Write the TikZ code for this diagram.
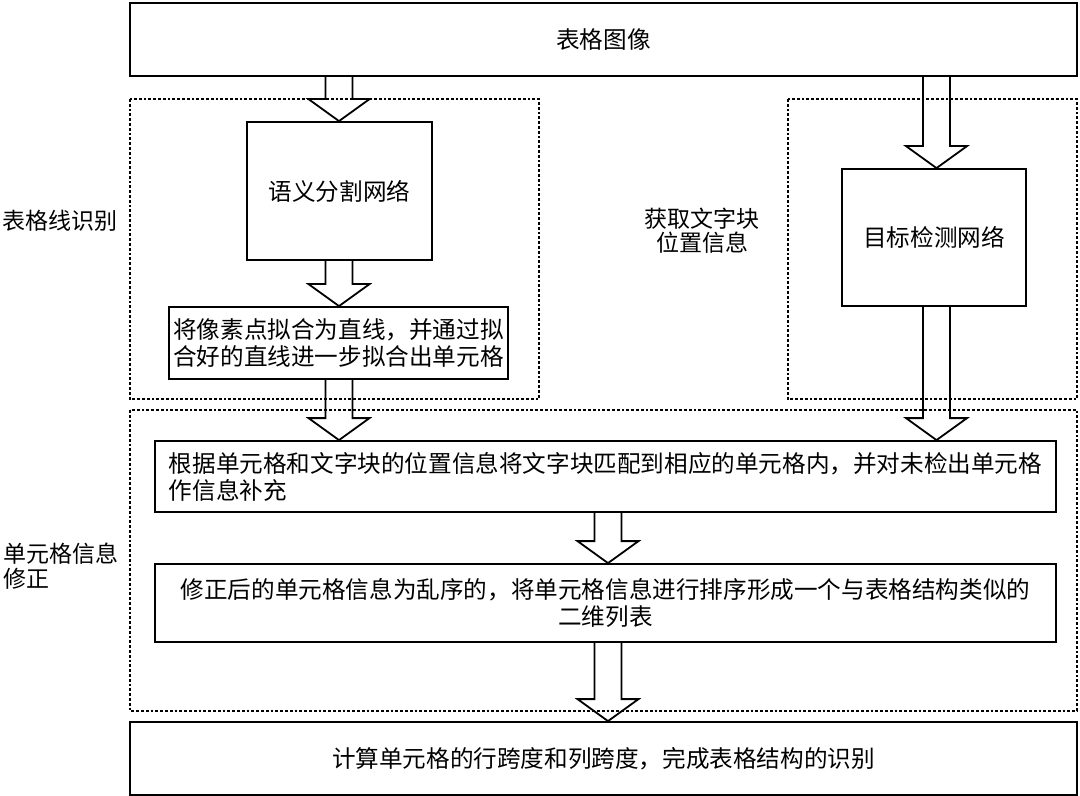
\documentclass[tikz,border=0pt]{standalone}
\usepackage{fontspec}
\setmainfont{Noto Sans CJK SC}
\usetikzlibrary{calc}
\tikzset{
  box/.style={draw, line width=0.9pt, inner sep=0pt, align=center,
    font=\fontsize{11.8}{13.5}\selectfont},
  grp/.style={draw, line width=0.75pt, dash pattern=on 1.4pt off 1pt},
  lbl/.style={inner sep=0pt, font=\fontsize{11.5}{12.2}\selectfont},
  barrowline/.style={draw, line width=0.9pt, line join=miter},
}
\newcommand\blockarrow[3]{%
  \path[barrowline] let \p0=(#1,0), \p1=(#2.south), \p2=(#3.north) in
    (\x0-6.75pt,\y1) -- (\x0-6.75pt,\y2+11pt) -- (\x0-15.25pt,\y2+11pt) --
    (\x0,\y2) -- (\x0+15.25pt,\y2+11pt) -- (\x0+6.75pt,\y2+11pt) -- (\x0+6.75pt,\y1);}
\begin{document}
\begin{tikzpicture}[x=0.5pt,y=-0.5pt]
\useasboundingbox (0,0) rectangle (1080,796);
% group frames
\draw[grp] (130,99) rectangle (539,399);
\draw[grp] (788,99) rectangle (1077,399);
\draw[grp] (130,410) rectangle (1077,711);
% nodes
\node[box, minimum width=473.5pt, minimum height=36.5pt] (img) at (603.5,39.5) {表格图像};
\node[box, minimum width=92.5pt, minimum height=69pt] (seg) at (339.5,191) {语义分割网络};
\node[box, minimum width=169.5pt, minimum height=36pt] (fit) at (338.5,343)
  {将像素点拟合为直线，并通过拟\\合好的直线进一步拟合出单元格};
\node[box, minimum width=92pt, minimum height=68.5pt] (det) at (934,237.5) {目标检测网络};
\node[box, minimum width=450.5pt, minimum height=35.5pt, align=left] (match) at (605.5,476.5)
  {根据单元格和文字块的位置信息将文字块匹配到相应的单元格内，并对未检出单元格\\作信息补充};
\node[box, minimum width=450.5pt, minimum height=39pt] (sort) at (605.5,603)
  {修正后的单元格信息为乱序的，将单元格信息进行排序形成一个与表格结构类似的\\二维列表};
\node[box, minimum width=473.5pt, minimum height=36.5pt] (res) at (603.5,758.5)
  {计算单元格的行跨度和列跨度，完成表格结构的识别};
% side labels
\node[lbl] (l1) at (60.5,221) {表格线识别};
\node[lbl, align=center] (l2) at (702,231) {获取文字块\\位置信息};
\node[lbl, align=left, anchor=west] (l3) at (3,566) {单元格信息\\修正};
% block arrows
\blockarrow{339}{img}{seg}
\blockarrow{936.5}{img}{det}
\blockarrow{339}{seg}{fit}
\blockarrow{339}{fit}{match}
\blockarrow{936.5}{det}{match}
\blockarrow{608}{match}{sort}
\blockarrow{608}{sort}{res}
\end{tikzpicture}
\end{document}
